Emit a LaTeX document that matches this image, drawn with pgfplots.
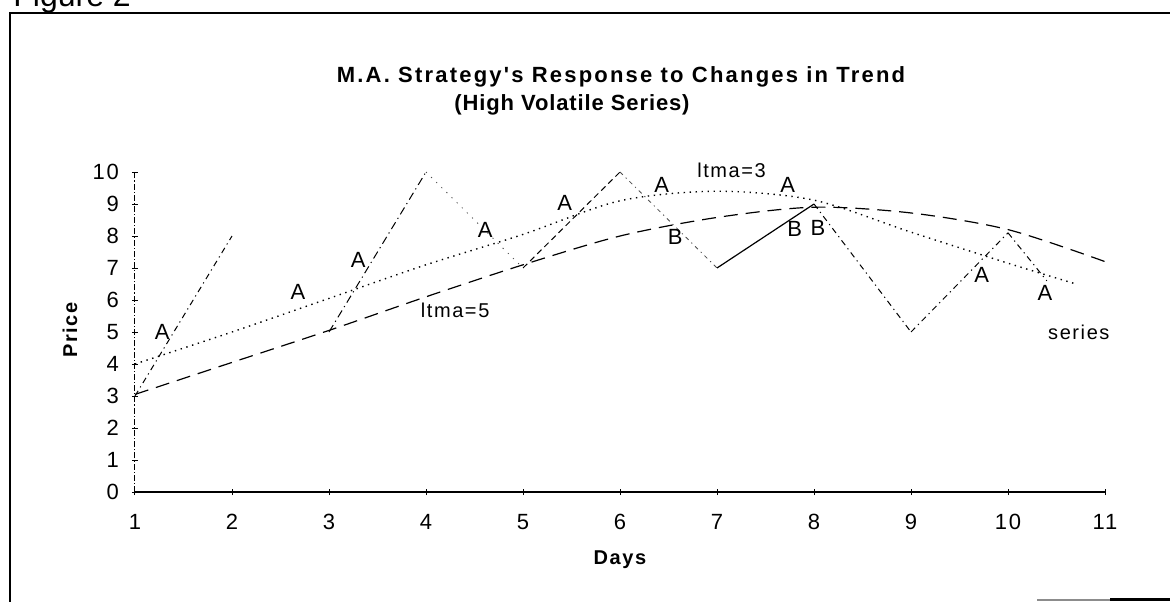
\documentclass[border=0pt]{standalone}
\usepackage{pgfplots}
\pgfplotsset{compat=1.18}
\usepackage{pgfplotstable}
\usepackage{fontspec}
\setmainfont{Liberation Sans}
\newfontfamily\titleA[LetterSpace=10]{Liberation Sans}
\newfontfamily\titleB[LetterSpace=4]{Liberation Sans}
\newfontfamily\spfont[LetterSpace=8]{Liberation Sans}

\pgfplotstableread{
day price
1 3.05
2 4.05
3 5.05
4 6.10
5 7.10
6 8.00
7 8.58
8 8.90
9 8.72
10 8.20
11 7.20
}\ltmafive

\pgfplotstableread{
day price
1 4.00
2 5.00
3 6.05
4 7.10
5 8.05
6 9.10
7 9.40
8 9.12
9 8.12
10 7.15
10.7 6.50
}\ltmathree

\begin{document}
\begin{tikzpicture}[x=1pt,y=1pt]
\begin{axis}[
  at={(0,0)}, anchor=south west,
  scale only axis, width=485pt, height=160pt,
  xmin=1, xmax=11, ymin=0, ymax=10,
  xtick={1,...,11}, ytick={0,...,10},
  axis lines*=left,
  axis line style={line width=0.6pt},
  y axis line style={densely dashdotted, line width=0.5pt},
  tick align=center, major tick length=3pt,
  tick style={black, line width=0.5pt},
  ticklabel style={font=\spfont\fontsize{11}{11}\selectfont},
  /pgf/number format/assume math mode=true,
  xticklabel style={yshift=-6pt},
  yticklabel style={xshift=-3pt},
  clip=false,
]
\addplot[black, line width=0.6pt, dash pattern=on 7pt off 4pt, smooth] table[x=day,y=price] {\ltmafive};
\addplot[black, line width=0.7pt, dash pattern=on 0.7pt off 2.3pt, smooth] table[x=day,y=price] {\ltmathree};
% price series, drawn day by day with the segment styles seen in the chart
\addplot[black, line width=0.5pt, dash pattern=on 3pt off 2pt on 0.6pt off 2pt] coordinates {(1,3) (2,8)};
\addplot[black, line width=0.5pt, dash pattern=on 4pt off 2pt on 0.6pt off 2pt] coordinates {(3,5) (4,10)};
\addplot[black!70, line width=0.4pt, dash pattern=on 0.6pt off 3pt] coordinates {(4,10) (5,7)};
\addplot[black, line width=0.5pt, dash pattern=on 3pt off 2pt] coordinates {(5,7) (6,10)};
\addplot[black!70, line width=0.4pt, dash pattern=on 2pt off 2pt on 0.6pt off 2pt] coordinates {(6,10) (7,7)};
\addplot[black, line width=0.6pt] coordinates {(7,7) (8,9)};
\addplot[black, line width=0.5pt, dash pattern=on 3pt off 2pt on 0.6pt off 2pt] coordinates {(8,9) (9,5)};
\addplot[black, line width=0.5pt, dash pattern=on 3pt off 2pt on 0.6pt off 2pt] coordinates {(9,5) (10,8.1)};
\addplot[black, line width=0.5pt, dash pattern=on 3pt off 2pt on 0.6pt off 2pt] coordinates {(10,8.1) (10.4,6.6)};

\begin{scope}[every node/.style={font=\spfont\fontsize{11}{11}\selectfont, inner sep=0}]
\node at (axis cs:1.28,5.00) {A};
\node at (axis cs:2.68,6.25) {A};
\node at (axis cs:3.30,7.25) {A};
\node at (axis cs:4.61,8.19) {A};
\node at (axis cs:5.43,9.03) {A};
\node at (axis cs:6.43,9.59) {A};
\node at (axis cs:7.73,9.59) {A};
\node at (axis cs:9.73,6.78) {A};
\node at (axis cs:10.38,6.22) {A};
\node at (axis cs:6.57,7.97) {B};
\node at (axis cs:7.80,8.22) {B};
\node at (axis cs:8.04,8.25) {B};
\end{scope}
\begin{scope}[every node/.style={font=\spfont\fontsize{10}{10}\selectfont, inner sep=0}]
\node at (axis cs:7.15,10.06) {ltma=3};
\node at (axis cs:4.30,5.69) {ltma=5};
\node at (axis cs:10.73,5.00) {series};
\end{scope}
\end{axis}

% titles and axis labels
\node[anchor=base, inner sep=0, font=\titleA\bfseries\fontsize{11}{11}\selectfont] at (243,205) {M.A. Strategy's Response to Changes in Trend};
\node[anchor=base, inner sep=0, font=\titleB\bfseries\fontsize{11}{11}\selectfont] at (218.5,191) {(High Volatile Series)};
\node[rotate=90, inner sep=0, font=\spfont\bfseries\fontsize{10}{10}\selectfont] at (-32.5,81) {Price};
\node[inner sep=0, font=\spfont\bfseries\fontsize{10}{10}\selectfont] at (242.5,-34) {Days};

% frame of the scanned figure
\draw[line width=1.2pt] (-62.5,-56) -- (-62.5,239.5) -- (520,239.5);
\draw[black!45, line width=1pt] (451,-53.8) -- (487.5,-53.8);
\draw[black, line width=1.2pt] (487.5,-53.8) -- (520,-53.8);
\node[anchor=base west, inner sep=0, font=\fontsize{16}{16}\selectfont] at (-61,243) {Figure 2};

\pgfresetboundingbox
\path[use as bounding box] (-67.5,-54.5) rectangle (517.5,246);
\end{tikzpicture}
\end{document}
